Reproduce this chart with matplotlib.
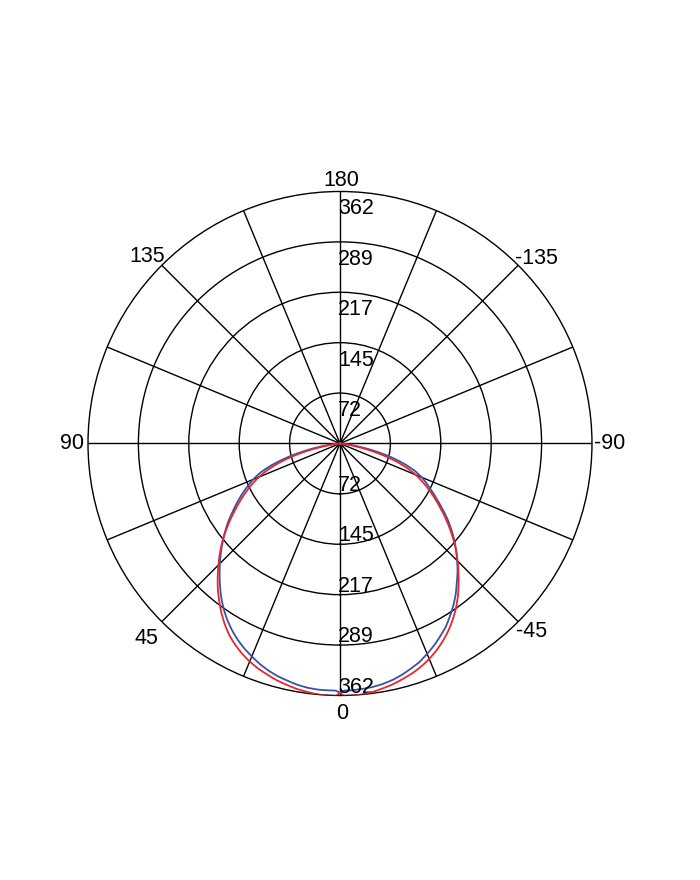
import numpy as np
import matplotlib
matplotlib.use('Agg')
import matplotlib.pyplot as plt

plt.rcParams['font.family'] = ['Liberation Sans', 'DejaVu Sans']

# gamma angles (deg) of one half plane
half_gamma = [0, 1, 2.5, 5, 7.5, 10, 12.5, 15, 17.5, 20, 22.5, 25, 27.5, 30,
              32.5, 35, 37.5, 40, 42.5, 45, 47.5, 50, 52.5, 55, 57.5, 60,
              62.5, 65, 67.5, 70, 72.5, 75, 77.5, 80, 82.5, 85, 87.5, 90]

# left half (+gamma) and right half (-gamma)
red_left = [358, 363, 363, 362, 360, 358, 355, 352, 348, 344, 339, 333, 326,
            318, 308, 297, 285, 273, 260, 247, 234, 221, 207, 193, 179, 166,
            153, 140, 126, 110, 91, 69, 46, 24, 8, 1, 0, 0]
red_right = [358, 363, 363, 362, 360, 357, 354, 350, 346, 341, 335, 328, 320,
             311, 301, 290, 278, 265, 252, 239, 226, 212, 198, 184, 170, 157,
             144, 131, 118, 102, 83, 62, 40, 20, 6, 1, 0, 0]

blue_left = [358, 355, 355, 355, 354, 352, 349, 346, 342, 337, 331, 325, 318,
             310, 301, 291, 280, 268, 256, 244, 232, 220, 208, 196, 183, 171,
             159, 147, 135, 121, 102, 80, 57, 35, 15, 4, 0, 0]
blue_right = [358, 355, 355, 354, 353, 351, 348, 344, 339, 334, 327, 320, 312,
              304, 294, 284, 273, 261, 250, 238, 226, 214, 201, 188, 174, 161,
              149, 138, 127, 114, 96, 76, 53, 31, 12, 3, 0, 0]

r_max = 362
ring_vals = [r_max * k / 5 for k in range(1, 6)]
ring_labels = ['72', '145', '217', '289', '362']

angle_ticks = [0, 45, 90, 135, 180, -135, -90, -45]
# pixel offsets of the angle labels from the outer ring (x right, y down)
angle_offsets = {0: (2, 16.5), 45: (-15, 15), 90: (-16, -1.5), 135: (-15, -10),
                 180: (1.5, -12.5), -135: (18.5, -8), -90: (18, -1.5),
                 -45: (13, 8)}


def full_curve(right, left):
    th = np.deg2rad(np.concatenate([-np.array(half_gamma[:0:-1]), half_gamma]))
    vals = np.concatenate([np.array(right[:0:-1]), left])
    return th, vals


fig = plt.figure(figsize=(7, 8.8), dpi=100)
ax = fig.add_axes([0.1257, 0.2097, 0.72, 0.5727], projection='polar')
ax.set_theta_zero_location('S')
ax.set_theta_direction(-1)
ax.set_ylim(0, r_max)

ax.set_xticks(np.deg2rad(np.arange(0, 360, 22.5)))
ax.set_xticklabels([])
ax.set_yticks(ring_vals[:-1])
ax.set_yticklabels([])
ax.grid(True, color='black', linewidth=1.0)
ax.spines['polar'].set_color('black')
ax.spines['polar'].set_linewidth(1.0)

th_b, v_b = full_curve(blue_right, blue_left)
th_r, v_r = full_curve(red_right, red_left)
ln_b, = ax.plot(th_b, v_b, color='#3553a8', linewidth=1.3, zorder=3)
ln_r, = ax.plot(th_r, v_r, color='#e8262b', linewidth=1.3, zorder=4)
for ln in (ln_b, ln_r):
    ln.get_path()._interpolation_steps = 10

# angle labels around the outside
for a in angle_ticks:
    dx, dy = angle_offsets[a]
    ax.annotate(str(a), xy=(np.deg2rad(a), r_max),
                xytext=(dx * 0.72, -(dy + 1.5) * 0.72), textcoords='offset points',
                ha='center', va='center', fontsize=15.5, annotation_clip=False)

# intensity labels along the vertical axis, top and bottom
for v, lab in zip(ring_vals, ring_labels):
    ax.annotate(lab, xy=(np.pi, v), xytext=(-1.5, -12.5), textcoords='offset points',
                ha='left', va='center', fontsize=15.5)
    ax.annotate(lab, xy=(0, v), xytext=(-1.5, 6), textcoords='offset points',
                ha='left', va='center', fontsize=15.5)

fig.savefig('out.png', dpi=100)
